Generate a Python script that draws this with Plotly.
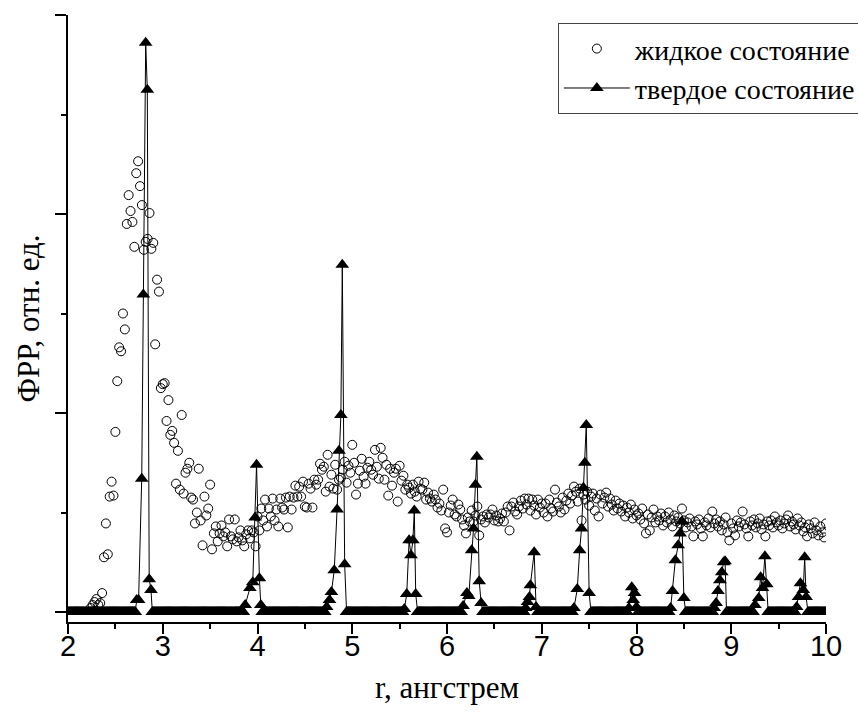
import numpy as np
import plotly.graph_objects as go

# ---------------- data ----------------
liquid_r0 = 2.24
liquid_step = 0.02
liquid_v = [
    0.04, 0.07, 0.10, 0.13, 0.07, 0.09, 0.19, 0.55, 0.89, 0.58,
    1.16, 1.31, 1.17, 1.81, 2.32, 2.66, 2.62, 3.00, 2.84, 3.90,
    4.19, 4.03, 3.92, 3.67, 4.41, 4.53, 4.28, 4.09, 3.64, 3.72,
    3.75, 4.01, 3.65, 3.71, 2.69, 3.34, 3.22, 2.25, 2.29, 2.30,
    1.92, 2.13, 1.78, 1.82, 1.70, 1.29, 1.62, 1.23, 1.98, 1.19,
    1.40, 1.44, 1.50, 1.15, 1.13, 0.89, 1.00, 1.44, 0.92, 0.67,
    1.16, 0.97, 1.04, 1.28, 0.63, 0.79, 0.86, 0.71, 0.79, 0.87,
    0.76, 0.80, 0.66, 0.93, 0.76, 0.73, 0.93, 0.71, 0.75, 0.82,
    0.72, 0.66, 0.78, 0.82, 0.74, 0.82, 0.80, 0.66, 0.96, 0.82,
    1.04, 0.92, 1.13, 0.86, 1.04, 0.96, 1.14, 0.92, 1.03, 0.86,
    1.14, 1.05, 1.03, 1.15, 0.85, 1.16, 1.03, 1.15, 1.27, 1.16,
    1.26, 1.16, 1.31, 1.06, 1.05, 1.29, 1.24, 1.05, 1.33, 1.28,
    1.33, 1.49, 1.43, 1.46, 1.21, 1.58, 1.26, 1.38, 1.24, 1.48,
    1.23, 1.33, 1.35, 1.43, 1.51, 1.30, 1.47, 1.40, 1.68, 1.50,
    1.18, 1.29, 1.42, 1.54, 1.36, 1.29, 1.45, 1.51, 1.43, 1.38,
    1.63, 1.46, 1.34, 1.65, 1.55, 1.33, 1.48, 1.17, 1.44, 1.27,
    1.40, 1.44, 1.11, 1.47, 1.32, 1.37, 1.23, 1.28, 1.25, 1.19,
    1.28, 1.21, 1.16, 1.31, 1.24, 1.23, 1.30, 1.13, 1.20, 1.14,
    1.11, 1.18, 1.13, 1.05, 1.09, 1.02, 1.23, 0.84, 0.80, 1.00,
    1.07, 1.13, 0.98, 0.96, 1.08, 1.03, 0.93, 0.87, 0.79, 0.95,
    0.91, 1.02, 0.91, 0.97, 1.06, 0.77, 0.93, 0.96, 0.90, 0.98,
    0.95, 0.98, 1.03, 0.92, 0.97, 0.91, 0.94, 0.99, 0.91, 1.00,
    1.06, 0.82, 1.06, 1.10, 1.01, 0.98, 1.06, 1.12, 1.04, 1.14,
    1.08, 1.14, 1.02, 1.13, 1.07, 0.98, 1.13, 1.05, 1.09, 1.00,
    1.09, 0.96, 1.13, 1.04, 1.01, 1.23, 1.10, 1.06, 1.00, 1.15,
    1.03, 1.12, 1.19, 1.09, 1.17, 1.26, 1.21, 1.11, 1.24, 0.92,
    1.18, 1.13, 1.21, 1.07, 1.16, 1.19, 1.02, 1.14, 0.96, 1.18,
    1.09, 1.15, 1.20, 1.06, 1.14, 1.08, 1.02, 1.12, 1.04, 1.09,
    1.01, 1.07, 0.96, 1.05, 1.00, 1.08, 0.94, 1.03, 0.97, 0.99,
    0.93, 1.04, 0.89, 0.79, 0.98, 0.82, 0.95, 1.03, 0.90, 0.96,
    0.92, 0.99, 0.87, 0.96, 0.90, 1.00, 0.93, 0.86, 0.97, 0.91,
    0.95, 0.89, 1.04, 0.92, 0.85, 0.90, 0.94, 0.86, 0.76, 0.91,
    0.88, 0.93, 0.84, 0.76, 0.90, 0.87, 0.94, 0.85, 1.01, 0.89,
    0.93, 0.86, 0.91, 0.82, 0.88, 0.95, 0.80, 0.72, 0.89, 0.84,
    0.77, 0.92, 0.86, 0.90, 1.01, 0.88, 0.84, 0.76, 0.91, 0.87,
    0.93, 0.85, 0.89, 0.94, 0.83, 0.88, 0.76, 0.91, 0.87, 0.92,
    0.85, 0.96, 0.90, 0.87, 0.92, 0.84, 0.89, 0.93, 0.97, 0.86,
    0.91, 0.88, 0.83, 0.94, 0.87, 0.90, 0.81, 0.85, 0.76, 0.88,
    0.84, 0.79, 0.90, 0.82, 0.77, 0.86, 0.80, 0.75, 0.89,
]

solid_base_start = 2.0
solid_base_end = 10.0
solid_base_step = 0.01
# solid-state peaks: one list of r and one list of values per peak
solid_peak_r = [
    [2.725, 2.745, 2.778, 2.795, 2.820, 2.837, 2.857, 2.876],
    [3.87, 3.92, 3.95, 3.975, 3.99, 4.02, 4.035],
    [4.73, 4.76, 4.78, 4.81, 4.84, 4.86, 4.88, 4.895, 4.92],
    [5.55, 5.575, 5.60, 5.62, 5.64, 5.655, 5.67],
    [6.17, 6.21, 6.23, 6.26, 6.28, 6.30, 6.315, 6.34, 6.36],
    [6.83, 6.85, 6.87, 6.88, 6.92, 6.94],
    [7.34, 7.375, 7.40, 7.42, 7.44, 7.455, 7.47, 7.50],
    [7.92, 7.95, 7.965, 7.98, 8.00],
    [8.36, 8.38, 8.41, 8.44, 8.46, 8.48, 8.50],
    [8.82, 8.84, 8.86, 8.88, 8.90, 8.92, 8.935],
    [9.25, 9.29, 9.31, 9.33, 9.355, 9.375],
    [9.69, 9.71, 9.73, 9.76, 9.775, 9.79],
]
solid_peak_v = [
    [0.12, 0.12, 1.34, 3.19, 5.72, 5.25, 0.33, 0.22],
    [0.07, 0.24, 0.30, 0.95, 1.48, 0.34, 0.07],
    [0.05, 0.12, 0.20, 0.42, 1.03, 1.62, 1.98, 3.49, 0.48],
    [0.03, 0.18, 0.72, 0.57, 0.72, 1.02, 0.18],
    [0.06, 0.19, 0.16, 0.62, 0.84, 1.28, 1.56, 0.31, 0.09],
    [0.04, 0.10, 0.15, 0.27, 0.60, 0.05],
    [0.04, 0.23, 0.62, 0.84, 1.25, 1.50, 1.88, 0.19],
    [0.04, 0.25, 0.12, 0.19, 0.05],
    [0.04, 0.21, 0.52, 0.67, 0.79, 0.91, 0.14],
    [0.04, 0.09, 0.21, 0.32, 0.40, 0.50, 0.51],
    [0.07, 0.14, 0.35, 0.24, 0.56, 0.28],
    [0.05, 0.15, 0.29, 0.22, 0.55, 0.15],
]

legend_names = ["жидкое состояние", "твердое состояние"]
x_title = "r, ангстрем"
y_title = "ФРР, отн. ед."

# ---------------- build series ----------------
liquid_r = np.round(liquid_r0 + liquid_step * np.arange(len(liquid_v)), 3)

base_r = np.round(np.arange(solid_base_start, solid_base_end + 1e-9, solid_base_step), 3)
keep = np.ones(len(base_r), dtype=bool)
for pr in solid_peak_r:
    keep &= ~((base_r > min(pr) - 0.012) & (base_r < max(pr) + 0.012))
all_peak_r = np.concatenate([np.array(p) for p in solid_peak_r])
all_peak_v = np.concatenate([np.array(p) for p in solid_peak_v])
solid_r = np.concatenate([base_r[keep], all_peak_r])
solid_v = np.concatenate([np.zeros(keep.sum()), all_peak_v])
order = np.argsort(solid_r, kind="stable")
solid_r = solid_r[order]
solid_v = solid_v[order]

SERIF = "Liberation Serif"
SANS = "Liberation Sans"

fig = go.Figure()
fig.add_trace(go.Scatter(
    x=liquid_r, y=liquid_v, mode="markers", name=legend_names[0],
    marker=dict(symbol="circle-open", size=9, color="black", line=dict(width=1, color="black")),
))
fig.add_trace(go.Scatter(
    x=solid_r, y=solid_v, mode="lines+markers", name=legend_names[1],
    line=dict(color="black", width=1),
    marker=dict(symbol="triangle-up", size=12, color="black"),
))

fig.update_layout(
    width=858, height=718,
    margin=dict(l=68, r=32, t=15, b=96, autoexpand=False),
    paper_bgcolor="white", plot_bgcolor="white",
    font=dict(family=SERIF, color="black"),
    showlegend=True,
    legend=dict(
        x=1.046, xanchor="right", y=0.987, yanchor="top",
        bordercolor="#444", borderwidth=1, bgcolor="white",
        font=dict(family=SERIF, size=28, color="black"),
        itemwidth=66, tracegroupgap=0,
    ),
)
fig.update_xaxes(
    range=[2, 10], tickmode="linear", tick0=2, dtick=1, automargin=False,
    ticks="outside", ticklen=10, tickwidth=1.5, tickcolor="black",
    minor=dict(ticks="outside", ticklen=5, dtick=0.5, tick0=2, tickcolor="black", tickwidth=1.5),
    showline=True, linewidth=2, linecolor="black",
    showgrid=False, zeroline=False,
    tickfont=dict(family=SANS, size=29, color="black"),
    ticklabelstandoff=-13,
    title=dict(text=x_title, font=dict(family=SERIF, size=31, color="black"), standoff=16),
)
fig.update_yaxes(
    range=[-0.1005, 6.0], tickmode="linear", tick0=0, dtick=2, automargin=False,
    ticks="outside", ticklen=11, tickwidth=1.5, tickcolor="black",
    minor=dict(ticks="outside", ticklen=5, dtick=1, tick0=0, tickcolor="black", tickwidth=1.5),
    showline=True, linewidth=2, linecolor="black",
    showgrid=False, zeroline=False, showticklabels=False,
    title=dict(text=y_title, font=dict(family=SERIF, size=31, color="black"), standoff=6),
)

fig.write_html("out.html")
